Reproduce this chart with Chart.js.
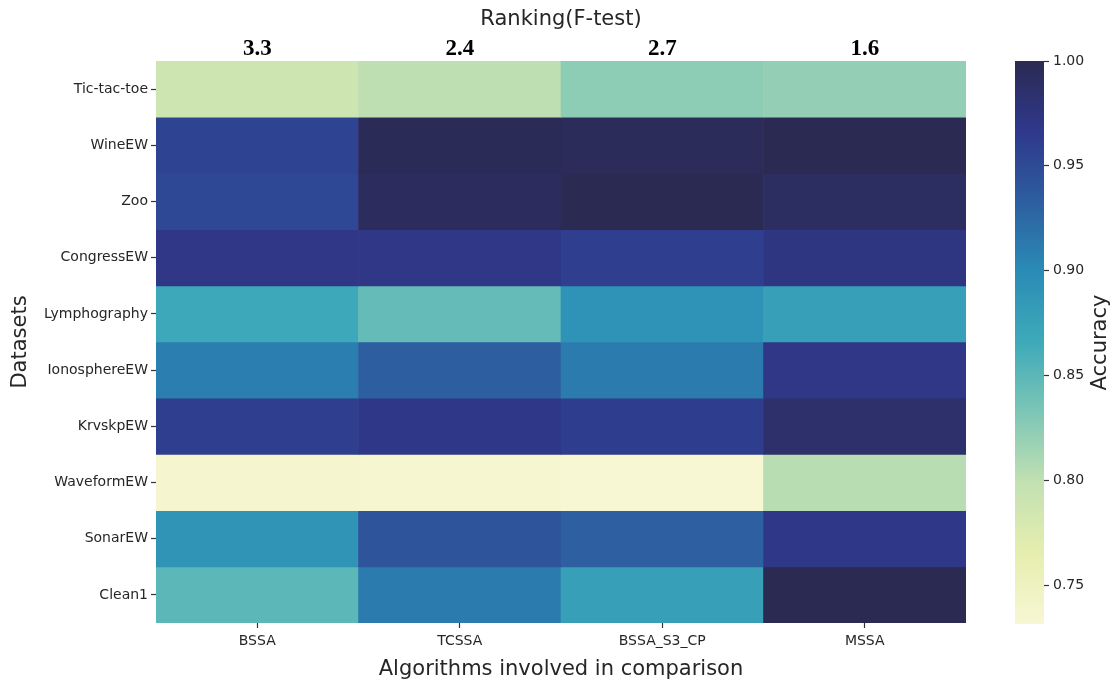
<!DOCTYPE html>
<html>
<head>
<meta charset="utf-8">
<title>Accuracy heatmap</title>
<script src="https://cdn.jsdelivr.net/npm/chart.js@4.4.1/dist/chart.umd.min.js"></script>
<style>
  html, body { margin: 0; padding: 0; background: #fff; }
  #wrap { position: relative; width: 1114px; height: 686px; }
  #heat { position: absolute; left: 0; top: 0; }
  #cbar { position: absolute; left: 990px; top: 0; }
</style>
</head>
<body>
<div id="wrap">
  <canvas id="heat" width="1000" height="686"></canvas>
  <canvas id="cbar" width="124" height="686"></canvas>
</div>
<script>
// Columns, top labels and rows of the heatmap
const algorithms = ['BSSA', 'TCSSA', 'BSSA_S3_CP', 'MSSA'];
const rankings = ['3.3', '2.4', '2.7', '1.6'];
const datasetNames = ['Tic-tac-toe', 'WineEW', 'Zoo', 'CongressEW', 'Lymphography',
                      'IonosphereEW', 'KrvskpEW', 'WaveformEW', 'SonarEW', 'Clean1'];

// Accuracy per dataset, one value per algorithm (same order as `algorithms`)
const ticTacToe    = [0.789, 0.801, 0.824, 0.821];
const wineEW       = [0.956, 0.997, 0.995, 1.000];
const zoo          = [0.952, 0.993, 1.000, 0.991];
const congressEW   = [0.970, 0.970, 0.961, 0.972];
const lymphography = [0.868, 0.845, 0.891, 0.877];
const ionosphereEW = [0.909, 0.933, 0.912, 0.970];
const krvskpEW     = [0.961, 0.968, 0.962, 0.986];
const waveformEW   = [0.735, 0.734, 0.7315, 0.804];
const sonarEW      = [0.890, 0.942, 0.932, 0.968];
const clean1       = [0.850, 0.912, 0.877, 1.000];

const accuracy = [ticTacToe, wineEW, zoo, congressEW, lymphography,
                  ionosphereEW, krvskpEW, waveformEW, sonarEW, clean1];

// Colour scale limits and colourbar ticks
const vmin = 0.7315;
const vmax = 1.0;
const colorbarTicks = [0.75, 0.80, 0.85, 0.90, 0.95, 1.00];

// Yellow-green-blue colour ramp (position along the scale, rgb)
const cmapStops = [
  [0.000, [247, 247, 212]],
  [0.125, [230, 238, 175]],
  [0.250, [195, 225, 178]],
  [0.375, [125, 198, 182]],
  [0.500, [62, 170, 185]],
  [0.625, [42, 140, 182]],
  [0.750, [45, 94, 160]],
  [0.875, [47, 56, 140]],
  [1.000, [43, 42, 82]]
];

const rgb = c => `rgb(${Math.round(c[0])},${Math.round(c[1])},${Math.round(c[2])})`;

function cmap(v) {
  const t = Math.min(1, Math.max(0, (v - vmin) / (vmax - vmin)));
  for (let i = 1; i < cmapStops.length; i++) {
    const [t1, c1] = cmapStops[i];
    if (t <= t1) {
      const [t0, c0] = cmapStops[i - 1];
      const f = (t - t0) / (t1 - t0);
      return rgb(c0.map((a, k) => a + (c1[k] - a) * f));
    }
  }
  return rgb(cmapStops[cmapStops.length - 1][1]);
}

const textColor = '#262626';
const tickFont = { family: 'DejaVu Sans', size: 14 };
const titleFont = { family: 'DejaVu Sans', size: 21 };
const tickMarks = { drawOnChartArea: false, drawTicks: true, tickLength: 5, tickWidth: 1.2, tickColor: '#333' };

// Heatmap: each row is a dataset of floating bars spanning [row, row + 1]
new Chart(document.getElementById('heat'), {
  type: 'bar',
  data: {
    labels: algorithms,
    datasets: datasetNames.map((name, r) => ({
      label: name,
      data: accuracy[r].map(() => [r, r + 1]),
      backgroundColor: accuracy[r].map(cmap),
      grouped: false,
      barPercentage: 1,
      categoryPercentage: 1,
      borderWidth: 0,
      xAxisID: 'x',
      yAxisID: 'y'
    }))
  },
  options: {
    responsive: false,
    animation: false,
    devicePixelRatio: 1,
    layout: { padding: { left: 0, right: 34, top: 0, bottom: 0 } },
    plugins: { legend: { display: false }, tooltip: { enabled: false } },
    scales: {
      x: {
        type: 'category',
        position: 'bottom',
        offset: true,
        grid: Object.assign({ offset: false }, tickMarks),
        border: { display: false },
        ticks: { font: tickFont, color: textColor, padding: 5, maxRotation: 0, autoSkip: false },
        title: {
          display: true, text: 'Algorithms involved in comparison',
          font: titleFont, color: textColor, padding: { top: 0, bottom: 4 }
        },
        afterFit(scale) { scale.height = 63; }
      },
      xTop: {
        type: 'category',
        position: 'top',
        labels: rankings,
        offset: true,
        grid: { display: false },
        border: { display: false },
        ticks: {
          font: { family: 'Liberation Serif', size: 23, weight: 'bold', lineHeight: 1 },
          color: '#000', padding: -8, maxRotation: 0, autoSkip: false
        },
        title: {
          display: true, text: 'Ranking(F-test)',
          font: titleFont, color: textColor, padding: { top: 7, bottom: 0 }
        },
        afterFit(scale) { scale.height = 61; }
      },
      y: {
        type: 'linear',
        min: 0,
        max: datasetNames.length,
        reverse: true,
        afterBuildTicks(scale) {
          scale.ticks = datasetNames.map((_, i) => ({ value: i + 0.5 }));
        },
        ticks: {
          callback: (value, index) => datasetNames[index],
          font: tickFont, color: textColor, padding: 3, autoSkip: false
        },
        grid: tickMarks,
        border: { display: false },
        title: {
          display: true, text: 'Datasets',
          font: titleFont, color: textColor, padding: { top: 8, bottom: 0 }
        },
        afterFit(scale) { scale.width = 156; }
      }
    }
  }
});

// Vertical label beside the colourbar, reading bottom to top
const colorbarLabel = {
  id: 'colorbarLabel',
  afterDraw(chart) {
    const { ctx, chartArea } = chart;
    ctx.save();
    ctx.translate(111, (chartArea.top + chartArea.bottom) / 2);
    ctx.rotate(-Math.PI / 2);
    ctx.font = '21px "DejaVu Sans"';
    ctx.fillStyle = textColor;
    ctx.textAlign = 'center';
    ctx.textBaseline = 'middle';
    ctx.fillText('Accuracy', 0, 0);
    ctx.restore();
  }
};

// Colourbar: one floating bar from vmin to vmax filled with the ramp
new Chart(document.getElementById('cbar'), {
  type: 'bar',
  data: {
    labels: ['Accuracy'],
    datasets: [{
      data: [[vmin, vmax]],
      backgroundColor(context) {
        const chart = context.chart;
        const ys = chart.scales.y;
        if (!chart.chartArea || !ys) return cmap(vmax);
        const g = chart.ctx.createLinearGradient(0, ys.getPixelForValue(vmin), 0, ys.getPixelForValue(vmax));
        cmapStops.forEach(([t, c]) => g.addColorStop(t, rgb(c)));
        return g;
      },
      barPercentage: 1,
      categoryPercentage: 1,
      borderWidth: 0
    }]
  },
  options: {
    responsive: false,
    animation: false,
    devicePixelRatio: 1,
    layout: { padding: { left: 25, right: 0, top: 61, bottom: 62 } },
    plugins: { legend: { display: false }, tooltip: { enabled: false } },
    scales: {
      x: { display: false },
      y: {
        type: 'linear',
        position: 'right',
        min: vmin,
        max: vmax,
        afterBuildTicks(scale) {
          scale.ticks = colorbarTicks.map(v => ({ value: v }));
        },
        ticks: { callback: v => v.toFixed(2), font: tickFont, color: textColor, padding: 4 },
        grid: tickMarks,
        border: { display: false },
        afterFit(scale) { scale.width = 70; }
      }
    }
  },
  plugins: [colorbarLabel]
});
</script>
</body>
</html>
